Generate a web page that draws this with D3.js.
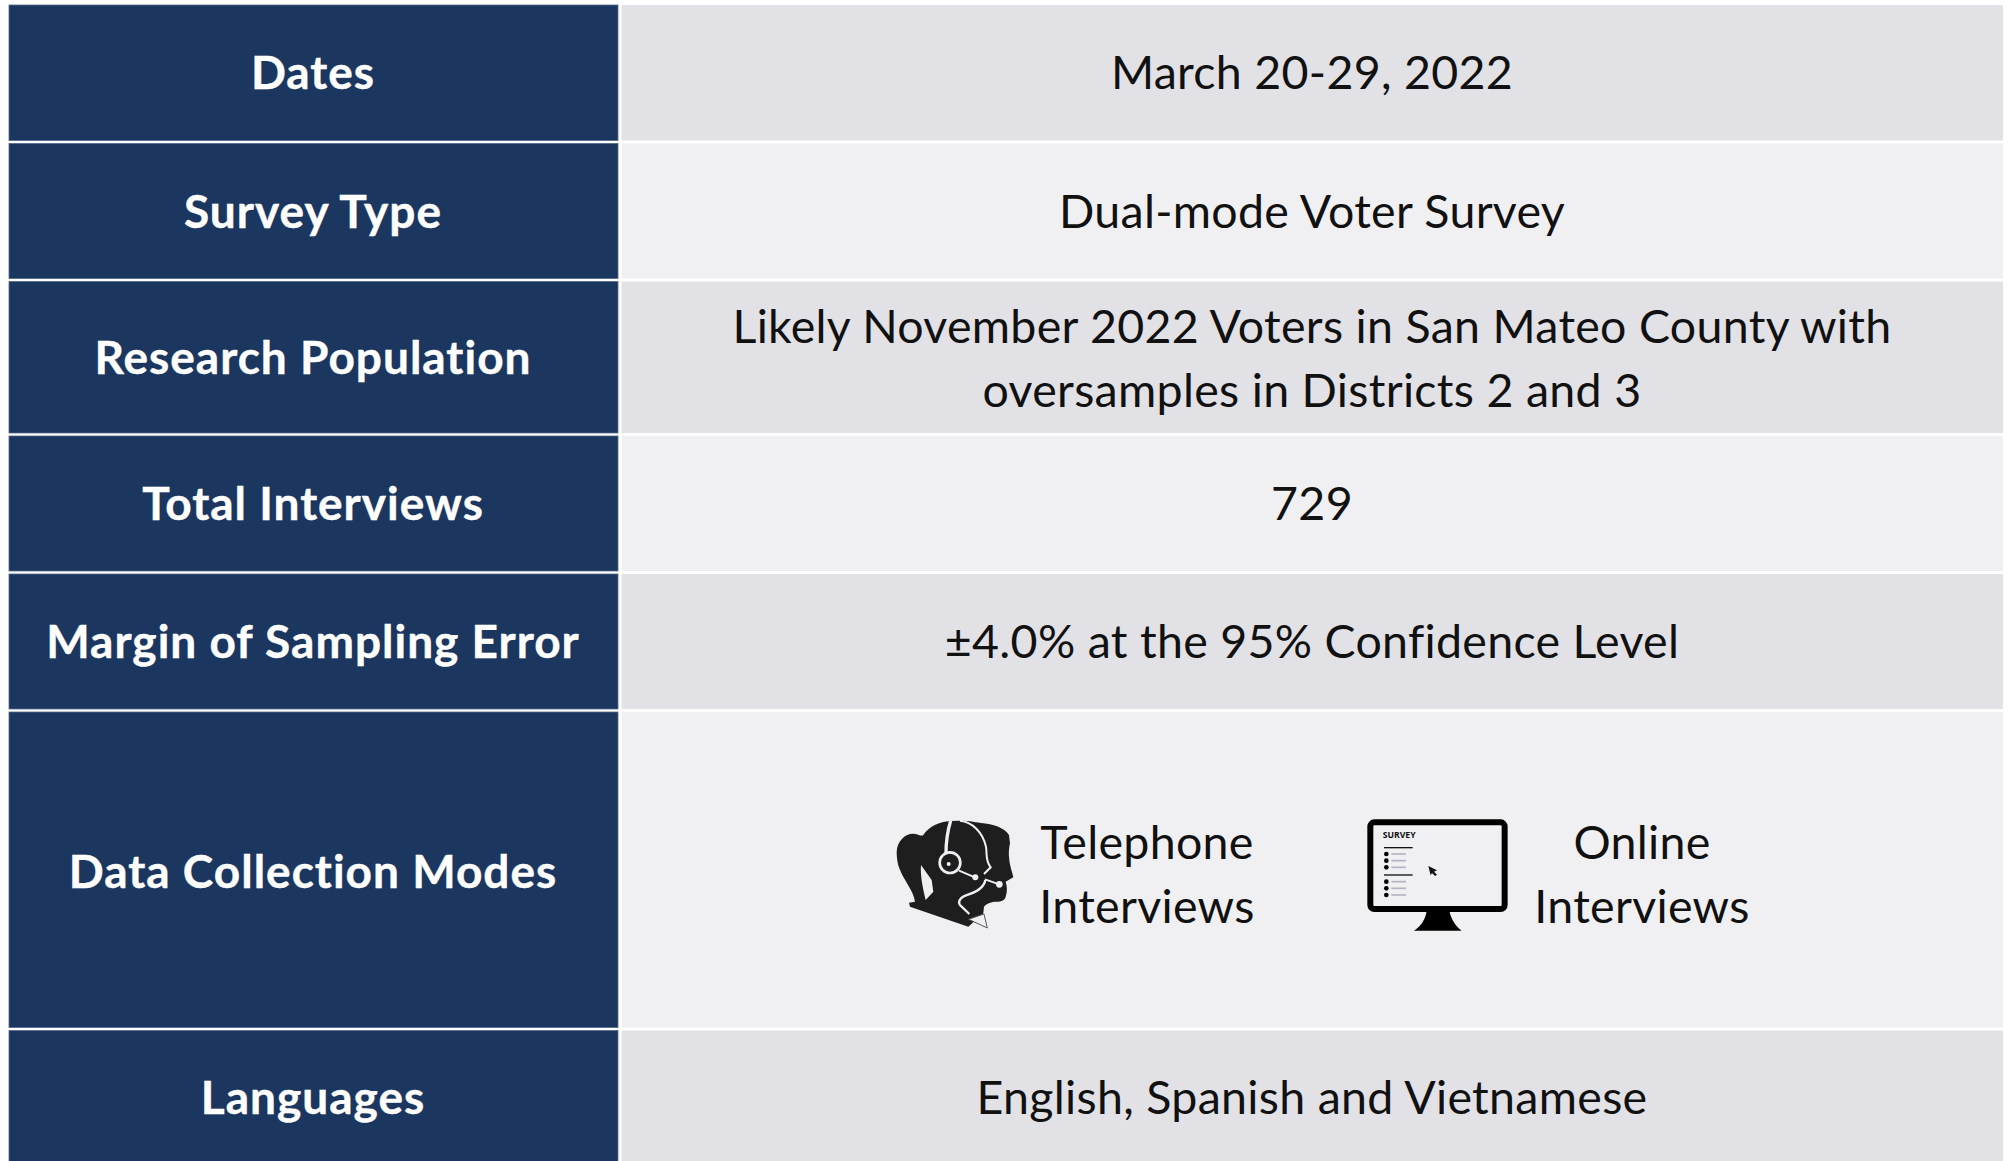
<!DOCTYPE html>
<html><head><meta charset="utf-8">
<script src="https://cdn.jsdelivr.net/npm/d3@7"></script>
<style>html,body{margin:0;padding:0;background:#fff;overflow:hidden}text{font-variant-ligatures:none}</style></head>
<body><svg id="c" width="2009" height="1161" style="display:block"></svg>
<script>
const labels=["Dates","Survey Type","Research Population","Total Interviews","Margin of Sampling Error","Data Collection Modes","Languages"];
const values=[["March 20-29, 2022"],["Dual-mode Voter Survey"],["Likely November 2022 Voters in San Mateo County with","oversamples in Districts 2 and 3"],["729"],["±4.0% at the 95% Confidence Level"],[],["English, Spanish and Vietnamese"]];
const modes=[["Telephone","Interviews"],["Online","Interviews"]];
const rowEdges=[3.5,142,280,434.5,572.5,710.5,1029,1165];
const svg=d3.select("#c");
const font="Lato,'Open Sans',sans-serif";
const H=1.5;
const rows=svg.selectAll("g.r").data(labels).enter().append("g");
rows.append("rect").attr("x",9).attr("width",609).attr("y",(d,i)=>rowEdges[i]+H).attr("height",(d,i)=>rowEdges[i+1]-rowEdges[i]-2*H).attr("fill","#1b365f").attr("stroke","#56698a").attr("stroke-width",0.8);
rows.append("rect").attr("x",621.5).attr("width",1381.5).attr("y",(d,i)=>rowEdges[i]+H).attr("height",(d,i)=>rowEdges[i+1]-rowEdges[i]-2*H).attr("fill",(d,i)=>i%2?"#f0f0f3":"#e1e1e6");
const mid=i=>(rowEdges[i]+rowEdges[i+1])/2;
rows.append("text").attr("x",313).attr("y",(d,i)=>mid(i)+16.5+(i==5?2:0)).attr("text-anchor","middle").attr("font-family",font).attr("font-weight",700).attr("font-size",46).attr("letter-spacing",1).attr("stroke","#fff").attr("stroke-width",0.4).attr("fill","#fff").text(d=>d);
rows.each(function(d,i){
  const n=values[i].length;
  values[i].forEach((t,j)=>d3.select(this).append("text").attr("x",1312).attr("y",mid(i)+16.5+(n>1?1:0)+(j-(n-1)/2)*64).attr("text-anchor","middle").attr("font-family",font).attr("font-size",46.5).attr("letter-spacing",0.3).attr("fill","#111").text(t));
});
const modeX=[1147,1642], modeY=[859,923];
modes.forEach((m,k)=>m.forEach((t,j)=>svg.append("text").attr("x",modeX[k]).attr("y",modeY[j]).attr("text-anchor","middle").attr("font-family",font).attr("font-size",46.5).attr("letter-spacing",0.3).attr("fill","#111").text(t)));

const a=svg.append("g").attr("transform","translate(860,790) scale(0.3333)");
a.append("path").attr("fill","#1e1e1e").attr("d","M110 185C112 150 140 128 165 132C175 133 185 140 190 135C205 110 240 95 270 93L300 92C330 92 350 97 370 100C400 102 435 115 447 135L450 160C447 175 445 190 448 210C450 230 458 250 460 262L437 275C442 290 442 305 437 320C435 330 425 335 410 335C395 335 380 340 372 350L370 370L325 410L150 350L147 338L165 335C160 300 130 270 118 235C112 220 110 200 110 185Z");
const W="#f0f0f3";
a.append("path").attr("fill",W).attr("d","M183 225C180 260 190 300 197 330L220 305L215 270Z");
a.append("path").attr("fill","none").attr("stroke",W).attr("stroke-width",10).attr("d","M272 92C262 125 258 155 258 190");
a.append("circle").attr("cx",270).attr("cy",218).attr("r",31).attr("fill","#1e1e1e").attr("stroke",W).attr("stroke-width",8);
a.append("circle").attr("cx",266).attr("cy",222).attr("r",6).attr("fill",W);
a.append("path").attr("fill","none").attr("stroke",W).attr("stroke-width",6).attr("d","M297 242L345 262");
a.append("circle").attr("cx",346).attr("cy",262).attr("r",9).attr("fill",W);
a.append("path").attr("fill","none").attr("stroke",W).attr("stroke-width",6).attr("d","M300 92C335 95 368 125 378 170C382 195 375 210 392 232L372 252");
a.append("path").attr("fill","none").attr("stroke",W).attr("stroke-width",6).attr("d","M375 268L418 283");
a.append("circle").attr("cx",418).attr("cy",283).attr("r",10).attr("fill",W);
a.append("path").attr("fill","none").attr("stroke",W).attr("stroke-width",7).attr("d","M376 270C372 295 345 308 318 316C295 325 292 340 305 350L328 372");
a.append("path").attr("fill",W).attr("stroke","#555").attr("stroke-width",3).attr("d","M326 388L372 372L382 414Z");

const b=svg.append("g").attr("transform","translate(1350,800) scale(0.3333)");
b.append("path").attr("fill","#000").attr("d","M230 330C228 358 212 380 192 392L335 392C318 380 302 358 298 330Z");
b.append("rect").attr("x",61).attr("y",67).attr("width",403).attr("height",260).attr("rx",12).attr("fill","#f0f0f3").attr("stroke","#000").attr("stroke-width",18);
b.append("text").attr("x",98).attr("y",113).attr("font-family","'Open Sans',sans-serif").attr("font-weight",700).attr("font-size",26).attr("fill","#111").text("SURVEY");
[143,225].forEach(y=>b.append("line").attr("x1",102).attr("x2",188).attr("y1",y).attr("y2",y).attr("stroke","#111").attr("stroke-width",4));
[162,182,202,245,265,285].forEach(y=>{
  b.append("circle").attr("cx",109).attr("cy",y).attr("r",7).attr("fill","#000");
  b.append("line").attr("x1",124).attr("x2",168).attr("y1",y).attr("y2",y).attr("stroke","#b4b4c0").attr("stroke-width",5);
});
b.append("path").attr("fill","#111").attr("d","M235 198L261 211L252 215L261 224L255 228L246 219L242 226Z");
</script></body></html>
